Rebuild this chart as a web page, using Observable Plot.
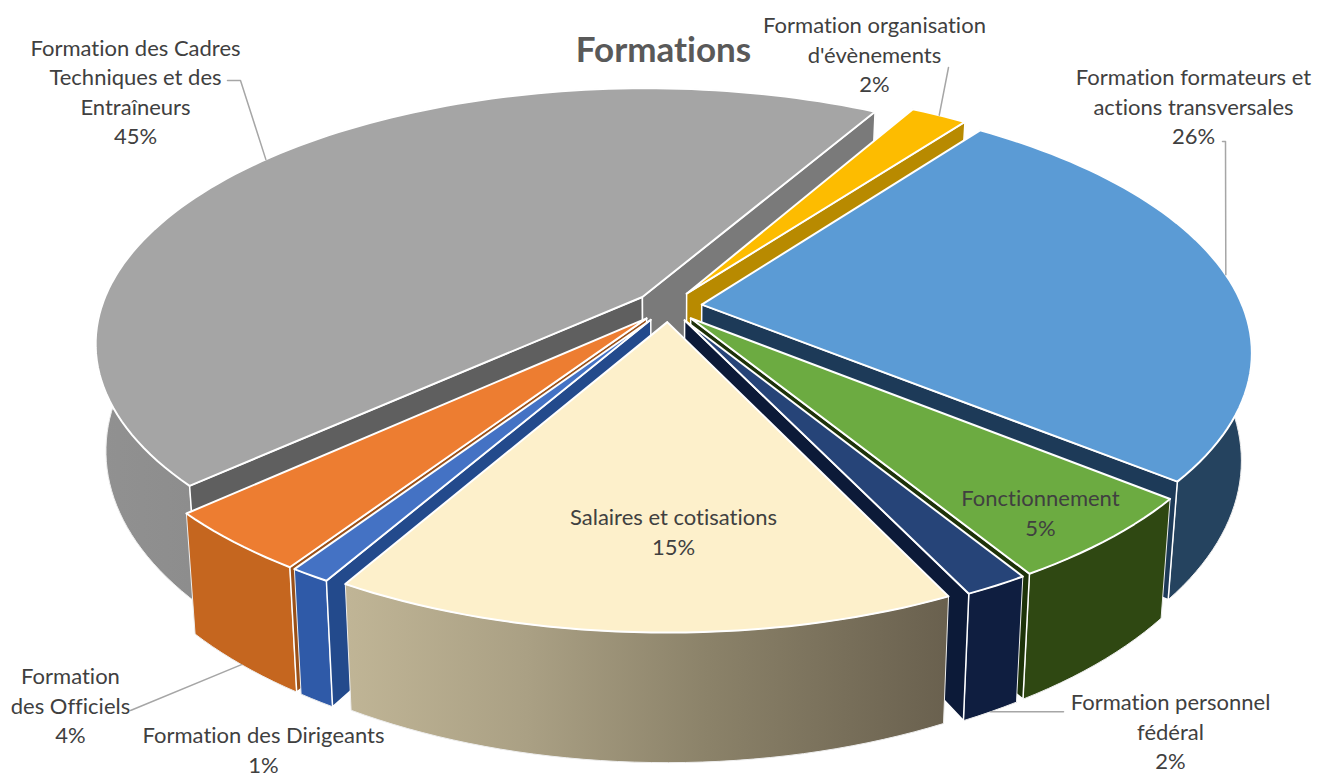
<!DOCTYPE html>
<html lang="fr">
<head>
<meta charset="utf-8">
<title>Formations</title>
<style>
  html, body { margin: 0; padding: 0; background: #fff; }
  svg { display: block; }
  svg text { font-variant-ligatures: none; }
</style>
<script src="https://cdn.jsdelivr.net/npm/d3@7"></script>
<script src="https://cdn.jsdelivr.net/npm/@observablehq/plot@0.6"></script>
</head>
<body>
<div id="chart"></div>
<script>
// ---- data ----
const categories = [
  "Formation des Cadres Techniques et des Entraîneurs",
  "Formation organisation d'évènements",
  "Formation formateurs et actions transversales",
  "Fonctionnement",
  "Formation personnel fédéral",
  "Salaires et cotisations",
  "Formation des Dirigeants",
  "Formation des Officiels"
];
// Shares; each rounds to the printed percentage
const shares = [45, 2, 25.7, 5.4, 1.6, 15.35, 1, 3.9];
const chartTitle = "Formations";

// ---- styles, in the same order as the categories ----
const topColors  = ["#a5a5a5", "#fdbc00", "#5b9bd5", "#6cab41", "#264478", "#fdf0cb", "#4472c4", "#ed7d31"];
const rimColors  = ["url(#rimGray)", "#a87f00", "#25435f", "#2f4812", "#0f1e40", "url(#rimCream)", "#2f5aa8", "#c5661f"];
const wallColors = ["#6b6b6b", "#b88a00", "#1d3a58", "#1d3209", "#0c1a38", "#8c8468", "#234a8c", "#9a5018"];

// ---- label layout ----
const labelLines = [
  ["Formation des Cadres", "Techniques et des", "Entraîneurs"],
  ["Formation organisation", "d'évènements"],
  ["Formation formateurs et", "actions transversales"],
  ["Fonctionnement"],
  ["Formation personnel", "fédéral"],
  ["Salaires et cotisations"],
  ["Formation des Dirigeants"],
  ["Formation", "des Officiels"]
];
const labelX = [135, 874, 1193, 1040, 1170, 673, 263, 70];
const labelY = [90, 53, 105, 511, 730, 530, 748, 704];
// Leader lines: rim level at the slice's mid angle, then the bend points toward the label
const leaderRim = ["top", "top", "top", null, "bottom", null, null, "bottom"];
const leaderBends = [
  [[240, 80], [227, 80]],
  [[948, 67]],
  [[1225, 141], [1222, 141]],
  null,
  [[1063, null]],
  null,
  null,
  [[130, 710]]
];

// ---- pie model: a tilted disc seen in perspective ----
const W = 1338, H = 773;
const cx = 668, cy = 306, A = 541, B = 249, k = 0.178;
const explode = 0.062, firstAngle = 227.4;
const dropX = 0.982, dropY = 1.08, drop = 104;
const rad = d => d * Math.PI / 180;

function project(u, v) {
  const w = 1 + k * v;
  return {x: cx + A * u / w, y: cy - B * v / w};
}
const lower = p => ({x: cx + dropX * (p.x - cx), y: p.y + drop + (dropY - 1) * (p.y - cy)});

const total = d3.sum(shares);
let running = firstAngle;
const slices = shares.map((s, i) => {
  const a0 = running, a1 = running + s / total * 360;
  running = a1;
  const mid = rad((a0 + a1) / 2);
  const ou = explode * Math.sin(mid), ov = explode * Math.cos(mid);
  const rimAt = a => project(ou + Math.sin(rad(a)), ov + Math.cos(rad(a)));
  const n = Math.max(2, Math.ceil((a1 - a0) / 1.5));
  const arc = d3.range(n + 1).map(j => rimAt(a0 + (a1 - a0) * j / n));
  const apex = project(ou, ov);
  return {i, a0, a1, apex, arc, rimAt, midAngle: (a0 + a1) / 2};
});

const poly = (pts, fill, strokeWidth = 1.5, stroke = "#fff") =>
  Plot.line([...pts, pts[0]], {x: "x", y: "y", fill, stroke, strokeWidth, strokeLinejoin: "round", curve: "linear"});

// Painter's order: far slices first, the front slice last.
// Each slice paints rim, then the cut faces that look toward the viewer, then its top.
const paintOrder = [0, 1, 2, 3, 4, 7, 6, 5];
const sliceMarks = paintOrder.flatMap(i => {
  const s = slices[i];
  const first = s.arc[0], last = s.arc[s.arc.length - 1];
  const marks = [poly([...s.arc, ...s.arc.map(lower).reverse()], rimColors[i], 1, "#eeeeee")];
  if (Math.sin(rad(s.a0)) < 0)
    marks.push(poly([s.apex, first, lower(first), lower(s.apex)], i === 0 ? "#5f5f5f" : wallColors[i]));
  if (Math.sin(rad(s.a1)) > 0)
    marks.push(poly([s.apex, last, lower(last), lower(s.apex)], i === 0 ? "#7a7a7a" : wallColors[i]));
  marks.push(poly([s.apex, ...s.arc], topColors[i], 2));
  return marks;
});

const leaders = slices.flatMap(s => {
  if (!leaderRim[s.i]) return [];
  const p = s.rimAt(s.midAngle);
  const start = leaderRim[s.i] === "bottom" ? lower(p) : p;
  const bends = leaderBends[s.i].map(([x, y]) => ({x, y: y ?? start.y}));
  return [Plot.line([start, ...bends], {x: "x", y: "y", stroke: "#a6a6a6", strokeWidth: 1.5, curve: "linear"})];
});

function gradient(id, x1, x2, stops) {
  const g = d3.create("svg:linearGradient")
    .attr("id", id).attr("gradientUnits", "userSpaceOnUse")
    .attr("x1", x1).attr("x2", x2).attr("y1", 0).attr("y2", 0);
  stops.forEach(([o, c]) => g.append("stop").attr("offset", o).attr("stop-color", c));
  return g.node();
}
const defs = () => {
  const d = d3.create("svg:defs");
  d.node().append(
    gradient("rimCream", 345, 950, [[0, "#c0b596"], [0.3, "#aaa084"], [0.6, "#8b8269"], [1, "#69604e"]]),
    gradient("rimGray", 95, 260, [[0, "#919191"], [1, "#8a8a8a"]])
  );
  return d.node();
};

const labels = categories.map((c, i) => ({
  name: c,
  text: [...labelLines[i], `${Math.round(shares[i])}%`].join("\n"),
  x: labelX[i],
  y: labelY[i]
}));

const chart = Plot.plot({
  width: W, height: H,
  margin: 0,
  x: {domain: [0, W], range: [0, W], axis: null},
  y: {domain: [0, H], range: [0, H], axis: null},
  style: {background: "#fff"},
  marks: [
    defs,
    ...sliceMarks,
    ...leaders,
    Plot.text(labels, {
      x: "x", y: "y", text: "text",
      fontFamily: "Lato", fontSize: 22, fill: "#404040",
      lineHeight: 1.34, lineAnchor: "middle", textAnchor: "middle"
    }),
    Plot.text([chartTitle], {
      x: [663], y: [50], text: d => d,
      fontFamily: "Lato", fontSize: 35, fontWeight: 700, fill: "#595959",
      lineAnchor: "middle", textAnchor: "middle"
    })
  ]
});
document.getElementById("chart").append(chart);
</script>
</body>
</html>
